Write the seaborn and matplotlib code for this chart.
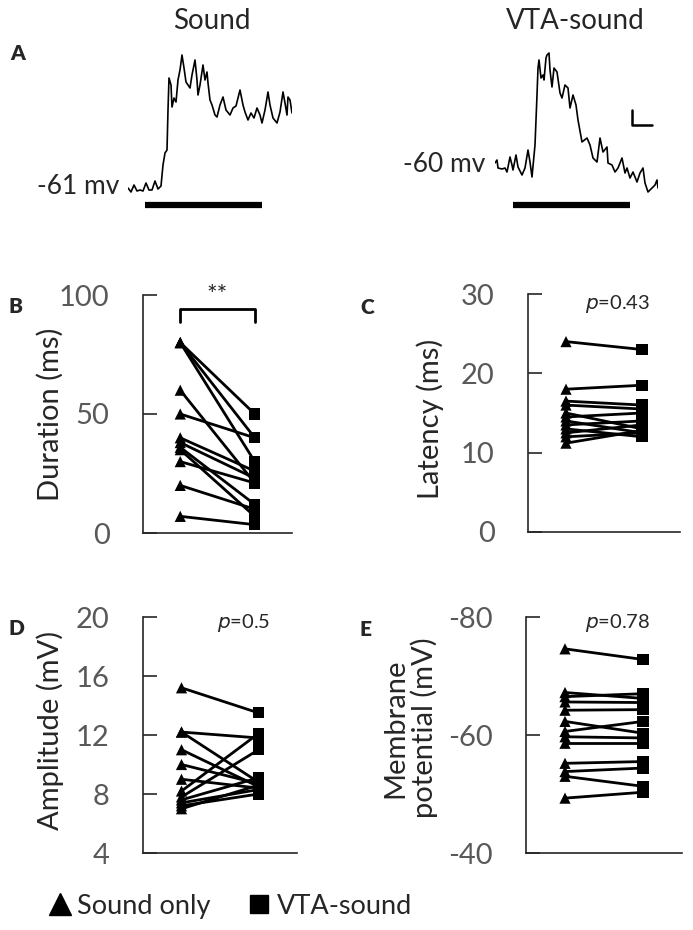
import numpy as np
import pandas as pd
import matplotlib.pyplot as plt
import seaborn as sns
from matplotlib.lines import Line2D

sns.set_style("ticks")
plt.rcParams['font.family'] = ['Lato', 'DejaVu Sans']
plt.rcParams['axes.unicode_minus'] = False

# %% Data
# Example traces (time in ms from trace start, depolarisation in mV above rest)
sound_rest = -61
sound_t = [0, 3, 6, 9, 12, 15, 18, 21, 24, 27, 30, 33, 35, 37, 39, 40, 41, 43, 44, 46,
           48, 50, 52, 54, 56, 58, 60, 62, 64, 67, 69, 70, 72, 75, 77, 79, 80, 82, 84,
           87, 89, 92, 95, 98, 102, 105, 108, 112, 115, 117, 120, 123, 126, 129, 132,
           134, 137, 140, 142, 145, 149, 152, 155, 157, 159, 160, 162, 164]
sound_dep = [0.2, -0.2, 0.5, -0.1, 0.0, -0.1, 0.7, 0.0, 0.0, 0.9, 0.1, 0.4, 2.5, 3.7,
             4.0, 8.0, 11.2, 10.5, 8.3, 9.2, 8.8, 11.0, 12.0, 13.5, 12.2, 10.8, 10.5,
             10.2, 11.5, 13.0, 11.0, 9.5, 10.5, 12.5, 11.0, 11.8, 10.7, 9.0, 8.5, 7.5,
             7.3, 8.5, 9.3, 8.0, 7.5, 8.2, 8.4, 10.0, 8.5, 7.8, 7.0, 7.7, 7.2, 8.2, 7.5,
             6.7, 8.0, 9.8, 8.5, 7.2, 6.7, 7.8, 9.8, 8.7, 7.5, 9.3, 9.0, 7.7]
sound_stim = [17, 134]

vta_rest = -60
vta_t = [0, 2, 3, 7, 10, 12, 15, 17, 18, 21, 23, 27, 30, 33, 35, 37, 40, 42, 43, 44,
         46, 48, 49, 51, 52, 54, 55, 57, 59, 62, 65, 67, 70, 73, 75, 78, 81, 83, 87,
         92, 95, 98, 102, 105, 108, 112, 113, 117, 120, 123, 127, 130, 132, 135, 138,
         142, 145, 148, 150, 153, 157, 160, 162, 163]
vta_dep = [0.5, 0.8, 0.0, -0.1, 0.0, -0.4, 1.1, 0.3, -0.2, 1.3, 0.1, -0.7, 0.0, 1.8,
           0.6, -0.9, 2.3, 7.3, 10.0, 10.8, 9.0, 9.3, 8.8, 11.0, 11.3, 11.5, 9.8, 8.1,
           10.0, 9.6, 7.5, 7.0, 8.3, 8.0, 6.0, 7.3, 6.3, 4.8, 2.6, 3.0, 2.3, 1.0, 0.6,
           3.0, 1.6, 2.1, 0.5, 0.3, -0.4, 0.0, 1.0, -0.5, 0.0, -1.0, -0.4, -1.4, -0.5,
           0.0, -1.5, -2.4, -2.0, -1.7, -1.2, -2.0]
vta_stim = [18, 135]
scale_ms, scale_mv = 20, 1.5

# Paired measurements (sound only, VTA-sound) per cell
dur_sound = [80, 80, 80, 60, 50, 40, 38, 36, 35, 30, 20, 7]
dur_vta = [50, 40, 30, 21, 40, 26, 23, 12, 7, 21, 10, 3.5]
lat_sound = [24, 18, 16.5, 16, 15, 14.5, 14, 13.5, 13, 12.5, 12, 11.2]
lat_vta = [23, 18.5, 16, 15.5, 13, 15, 12.5, 14, 12, 13.5, 12.5, 12.8]
amp_sound = [15.2, 12.2, 12.2, 11, 10, 9, 8.2, 7.8, 7.6, 7.4, 7.2, 7]
amp_vta = [13.5, 11.8, 8.8, 8.5, 8.7, 8.4, 12.1, 11, 9.1, 8.3, 8.0, 8.6]
mp_sound = [-74.6, -67.2, -66.5, -65.6, -64.2, -62.3, -60.6, -59.7, -58.6, -55.2,
            -53.8, -53.0, -49.3]
mp_vta = [-72.8, -66.2, -67.0, -65.5, -64.3, -60.3, -62.3, -59.5, -58.6, -55.5,
          -54.4, -51.3, -50.3]

conditions = ['Sound only', 'VTA-sound']
p_labels = {'C': '0.43', 'D': '0.5', 'E': '0.78'}

# %% Figure
W, H = 693, 930
fig = plt.figure(figsize=(W / 100, H / 100), dpi=100)


def box(l, t, r, b):
    return [l / W, 1 - b / H, (r - l) / W, (b - t) / H]


def trace(ax, t, dep, rest, stim, ylim, label, label_x):
    v = [rest + d for d in dep]
    sns.lineplot(x=t, y=v, estimator=None, color='black', lw=1.2, ax=ax)
    ax.set_xlim(0, t[-1])
    ax.set_ylim(ylim)
    bar_y = ylim[0] + 1.0
    ax.plot(stim, [bar_y, bar_y], color='black', lw=4.5, solid_capstyle='butt')
    ax.text(label_x, rest + 0.4, label, ha='right', va='center', fontsize=19,
            clip_on=False)
    ax.axis('off')


ax_s = fig.add_axes(box(128, 40, 292, 215))
trace(ax_s, sound_t, sound_dep, sound_rest, sound_stim, (-63.5, -46), '-61 mv', -9)
ax_v = fig.add_axes(box(495, 40, 658, 215))
trace(ax_v, vta_t, vta_dep, vta_rest, vta_stim, (-64.7, -47.2), '-60 mv', -10)
# scale bar
sx, sy = 137, -55.7
ax_v.plot([sx, sx, sx + scale_ms], [sy + scale_mv, sy, sy], color='black', lw=1.8)

fig.text(212 / W, 1 - 21 / H, 'Sound', ha='center', va='center', fontsize=20)
fig.text(575 / W, 1 - 21 / H, 'VTA-sound', ha='center', va='center', fontsize=20)


def paired(ax, sound, vta, ylim, ticks, ylabel, lab_x, lab_y):
    n = len(sound)
    df = pd.DataFrame({
        'cell': list(range(n)) * 2,
        'cond': [conditions[0]] * n + [conditions[1]] * n,
        'x': [0] * n + [1] * n,
        'value': sound + vta,
    })
    sns.lineplot(data=df, x='x', y='value', units='cell', estimator=None,
                 color='black', lw=2.0, ax=ax, legend=False)
    sns.scatterplot(data=df, x='x', y='value', style='cond',
                    markers={conditions[0]: '^', conditions[1]: 's'},
                    color='black', s=65, linewidth=0, ax=ax, legend=False, zorder=3)
    ax.set_xlim(-0.5, 1.5)
    ax.set_xticks([])
    ax.set_xlabel('')
    ax.set_ylim(ylim)
    ax.set_yticks(ticks)
    ax.set_yticklabels([str(v) for v in ticks], color='#595959', fontsize=21)
    ax.tick_params(axis='y', direction='in', length=10, width=1.2, pad=24)
    sns.despine(ax=ax)
    for sp in ['left', 'bottom']:
        ax.spines[sp].set_linewidth(1.2)
    ax.set_ylabel(ylabel, fontsize=21, va='center', linespacing=1.1)
    ax.yaxis.set_label_coords(lab_x, lab_y)


ax_b = fig.add_axes(box(143, 295, 292, 533))
paired(ax_b, dur_sound, dur_vta, (0, 100), [0, 50, 100], 'Duration (ms)', -0.62, 0.5)
ax_b.plot([0, 0, 1, 1], [88.7, 94.1, 94.1, 88.7], color='black', lw=2.0, clip_on=False)
ax_b.text(0.5, 94.8, '**', ha='center', va='bottom', fontsize=18)

ax_c = fig.add_axes(box(528, 294, 680, 532))
paired(ax_c, lat_sound, lat_vta, (0, 30), [0, 10, 20, 30], 'Latency (ms)', -0.645, 0.475)

ax_d = fig.add_axes(box(143, 617, 297, 853))
paired(ax_d, amp_sound, amp_vta, (4, 20), [4, 8, 12, 16, 20], 'Amplitude (mV)', -0.604, 0.52)

ax_e = fig.add_axes(box(526, 617, 682, 853))
paired(ax_e, mp_sound, mp_vta, (-40, -80), [-80, -60, -40],
       'Membrane\npotential (mV)', -0.74, 0.53)

for ax, key, x, y in [(ax_c, 'C', 0.25, 28.8), (ax_d, 'D', 0.46, 19.6), (ax_e, 'E', 0.26, -79)]:
    ax.text(x, y, '$p$=' + p_labels[key], ha='left', va='center', fontsize=14.5)

# panel letters
for letter, x, y in [('A', 10, 53), ('B', 8, 306), ('C', 360, 308), ('D', 8, 628), ('E', 360, 630)]:
    fig.text(x / W, 1 - y / H, letter, ha='left', va='center', fontsize=15, fontweight='heavy')

handles = [Line2D([], [], marker='^', color='black', ls='', markersize=16),
           Line2D([], [], marker='s', color='black', ls='', markersize=13)]
fig.legend(handles, conditions, loc='center left', bbox_to_anchor=(46 / W, 1 - 906 / H),
           ncol=2, frameon=False, fontsize=19.5, handlelength=1.0, handletextpad=0.15,
           columnspacing=1.3, borderpad=0, borderaxespad=0)

fig.savefig('out.png', dpi=100)
